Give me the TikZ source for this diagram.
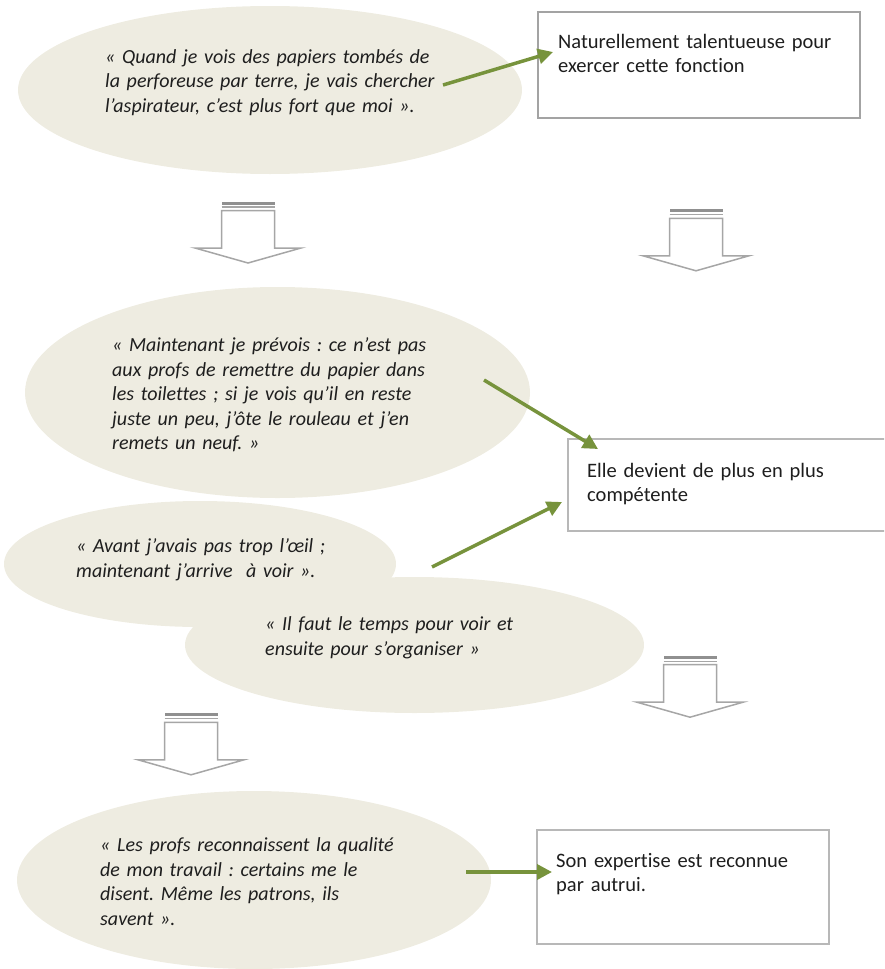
\documentclass[tikz,border=0pt]{standalone}
\usepackage{fontspec}
\setmainfont{Carlito}[Ligatures=CommonOff]
\frenchspacing
\usetikzlibrary{positioning,shapes.geometric,arrows.meta}
\definecolor{beige}{HTML}{EEECE1}
\definecolor{vertolive}{HTML}{77933C}
\definecolor{grisbord}{HTML}{B8B8B8}
\definecolor{grisfonce}{HTML}{A3A3A3}
\definecolor{grisfleche}{HTML}{A6A6A6}
\definecolor{grisbande}{HTML}{909090}
\definecolor{encre}{HTML}{1E1E1E}
\tikzset{
	bulle/.style={ellipse,fill=beige,draw=none,inner sep=0pt},
	boite/.style={rectangle,draw=grisbord,line width=1.5pt,fill=white,inner sep=0pt,anchor=north west},
	citation/.style={text width=420pt,align=left,inner sep=0pt,anchor=base west,text=encre,font=\fontsize{20}{24.5}\selectfont\itshape},
	constat/.style={citation,font=\fontsize{20.5}{24.5}\selectfont\upshape},
	fleche/.style={draw=vertolive,line width=3.5pt,-{Triangle[length=15pt,width=15pt]}},
}
\begin{document}
\begin{tikzpicture}[x=1pt,y=-1pt]
	\useasboundingbox (0,0) rectangle (884,969);
	\clip (0,0) rectangle (884,969);
	\node[bulle,minimum width=504pt,minimum height=168pt] (bulle1) at (270,90) {};
	\node[bulle,minimum width=505pt,minimum height=211pt] (bulle2) at (277.5,392.5) {};
	\node[bulle,minimum width=392pt,minimum height=126pt] (bulle3) at (200,564) {};
	\node[bulle,minimum width=459pt,minimum height=136pt] (bulle4) at (414.5,645) {};
	\node[bulle,minimum width=474pt,minimum height=178pt] (bulle5) at (254,880) {};
	\node[boite,draw=grisfonce,minimum width=322pt,minimum height=106pt] (boite1) at (537,11) {};
	\node[boite,minimum width=340pt,minimum height=92pt] (boite2) at (567,438) {};
	\node[boite,minimum width=292pt,minimum height=114pt] (boite3) at (536,829) {};
	\foreach \x/\y in {248/201.5,696/209.3,191/713.3,690/655.7} {
		\fill[grisbande] (\x-26.5,\y) rectangle (\x+26.5,\y+3);
		\draw[grisfleche,line width=1.2pt] (\x-26.5,\y+5.5) -- (\x+26.5,\y+5.5);
		\draw[grisfleche,line width=1.5pt,fill=white] (\x-26.5,\y+9) -- (\x-26.5,\y+46.5) -- (\x-53,\y+46.5) -- (\x,\y+61.5) -- (\x+53,\y+46.5) -- (\x+26.5,\y+46.5) -- (\x+26.5,\y+9) -- cycle;
	}
	\node[citation] (cit1) at (105,63) {«~Quand je vois des papiers tombés de\\la perforeuse par terre, je vais chercher\\l’aspirateur, c’est plus fort que moi~».};
	\node[citation] (cit2) at (112,351.5) {«~Maintenant je prévois : ce n’est pas\\aux profs de remettre du papier dans\\les toilettes ; si je vois qu’il en reste\\juste un peu, j’ôte le rouleau et j’en\\remets un neuf.~»};
	\node[citation] (cit3) at (76,552.5) {«~Avant j’avais pas trop l’œil ;\\maintenant j’arrive~~à voir~».};
	\node[citation] (cit4) at (265,630.5) {«~Il faut le temps pour voir et\\ensuite pour s’organiser~»};
	\node[citation] (cit5) at (100,851.5) {«~Les profs reconnaissent la qualité\\de mon travail : certains me le\\disent. Même les patrons, ils\\savent~».};
	\node[constat,below right=37pt and 21pt of boite1.north west,anchor=base west] (t1) {Naturellement talentueuse pour\\exercer cette fonction};
	\node[constat,below right=39pt and 20pt of boite2.north west,anchor=base west] (t2) {Elle devient de plus en plus\\compétente};
	\node[constat,below right=38pt and 20pt of boite3.north west,anchor=base west] (t3) {Son expertise est reconnue\\par autrui.};
	\coordinate (d1) at (443,85);
	\coordinate (f1) at (553,52);
	\coordinate (d2) at (484,380);
	\coordinate (f2) at (598,449);
	\coordinate (d3) at (432,567);
	\coordinate (f3) at (562,502);
	\coordinate (d4) at (466,872);
	\coordinate (f4) at (552,872);
	\foreach \i in {1,2,3,4} \draw[fleche] (d\i) -- (f\i);
\end{tikzpicture}
\end{document}
